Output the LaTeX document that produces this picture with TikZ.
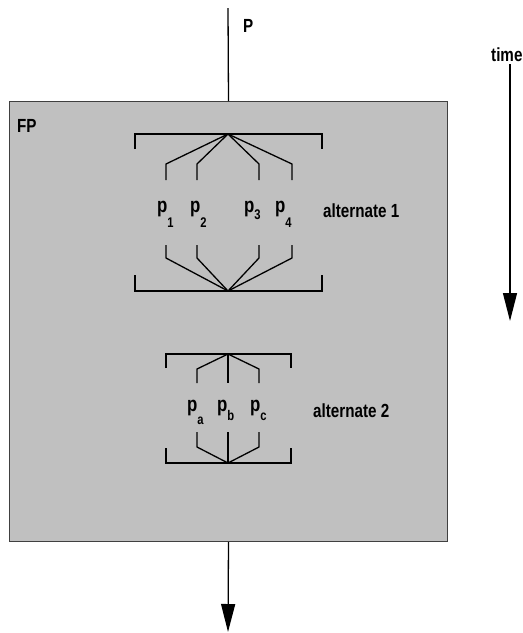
\documentclass[tikz,border=0pt]{standalone}
\usepackage{fontspec}
\setmainfont{Liberation Sans}[FakeStretch=0.8]
\usetikzlibrary{arrows.meta}
\begin{document}
\begin{tikzpicture}[x=1pt,y=-1pt,
  lab/.style={inner sep=0pt, anchor=base west, font=\fontsize{19}{19}\selectfont\bfseries},
  plab/.style={lab, font=\fontsize{21}{21}\selectfont\bfseries},
  wire/.style={line width=1.3pt, black},
  bigarrow/.style={line width=1.3pt, -{Triangle[length=28pt,width=14pt]}}]
\useasboundingbox (0,0) rectangle (523,633);
\newcommand{\sbx}[2]{\raisebox{#1pt}{\fontsize{14}{14}\selectfont #2}}
% main box
\node[draw=black!75, line width=1pt, fill={rgb,255:red,192;green,192;blue,192},
      minimum width=438pt, minimum height=440pt, inner sep=0pt, anchor=north west]
      (fp) at (9,101) {};
\coordinate (pin) at (228,8);
\coordinate (pout) at (228,632);
\draw[wire] (pin) -- (fp.north);
\draw[bigarrow] (fp.south) -- (pout);
\node[lab] (ptext) at (243,32) {P};
\node[lab] (fptext) at (17,132) {FP};
% time arrow
\node[lab] (time) at (491,61) {time};
\coordinate (t0) at (510,64);
\coordinate (t1) at (510,321);
\draw[bigarrow] (t0) -- (t1);
% alternate 1
\coordinate (a1) at (228,134);
\coordinate (b1) at (228,291);
\draw[wire] (135,149) -- (135,134) -- (322,134) -- (322,149);
\draw[wire] (135,275) -- (135,291) -- (322,291) -- (322,275);
\foreach \x in {166,197,259,292}{
  \draw[wire] (a1) -- (\x,164) -- (\x,180);
  \draw[wire] (\x,245) -- (\x,258) -- (b1);
}
\node[plab] (p1) at (157,212) {p\sbx{-15}{1}};
\node[plab] (p2) at (190,212) {p\sbx{-15}{2}};
\node[plab] (p3) at (244,212) {p\sbx{-7}{3}};
\node[plab] (p4) at (275,212) {p\sbx{-15}{4}};
\node[lab] (alt1) at (323,217) {alternate 1};
% alternate 2
\coordinate (a2) at (228,354);
\coordinate (b2) at (228,463);
\draw[wire] (166,368) -- (166,354) -- (291,354) -- (291,368);
\draw[wire] (166,448) -- (166,463) -- (291,463) -- (291,448);
\draw[wire] (a2) -- (197,369) -- (197,383);
\draw[wire] (a2) -- (228,383);
\draw[wire] (a2) -- (259,369) -- (259,383);
\draw[wire] (197,432) -- (197,447) -- (b2);
\draw[wire] (228,432) -- (b2);
\draw[wire] (259,432) -- (259,447) -- (b2);
\node[plab] (pa) at (187,411) {p\sbx{-13}{a}};
\node[plab] (pb) at (217,411) {p\sbx{-9}{b}};
\node[plab] (pc) at (250,411) {p\sbx{-9}{c}};
\node[lab] (alt2) at (313,417) {alternate 2};
\end{tikzpicture}
\end{document}
